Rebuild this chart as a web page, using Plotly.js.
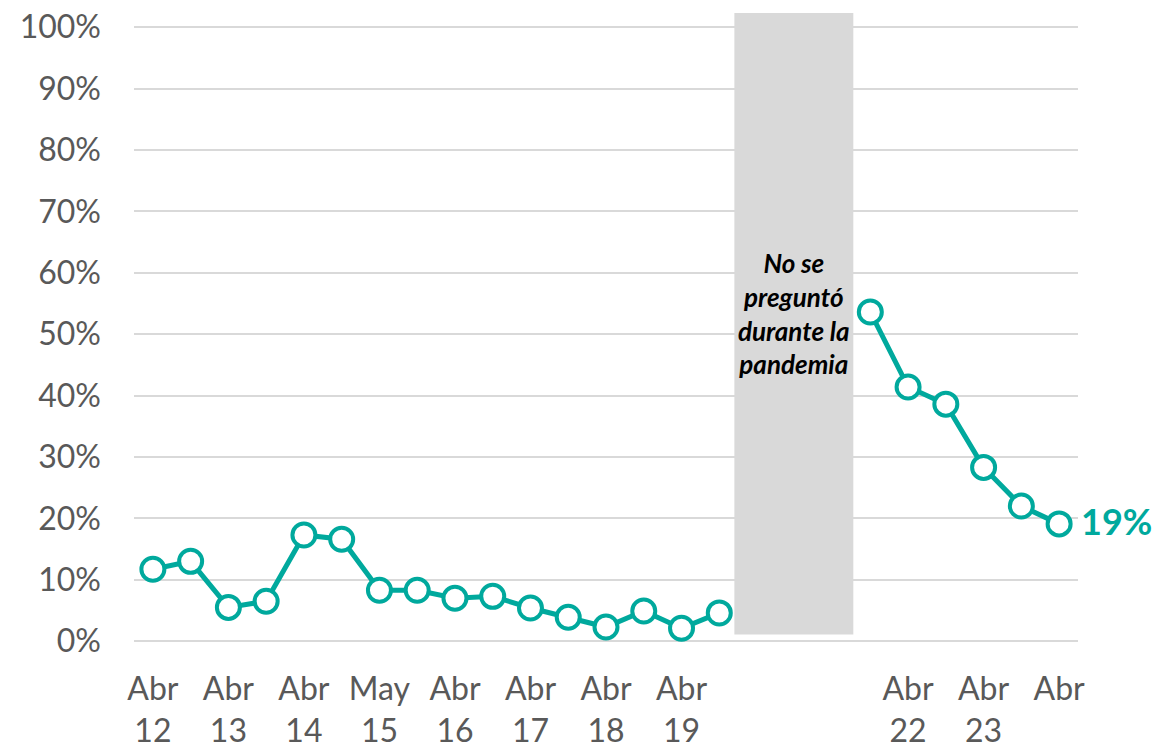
<!DOCTYPE html>
<html>
<head>
<meta charset="utf-8">
<script src="https://cdn.plot.ly/plotly-3.0.1.min.js"></script>
<style>html,body{margin:0;padding:0;background:#fff;}#chart{width:1161px;height:749px;}</style>
</head>
<body>
<div id="chart"></div>
<script>
// Survey waves (index positions along the axis); nulls = not asked during the pandemic
const waves = ["Abr 12","Jul 12","Abr 13","Jul 13","Abr 14","Jul 14","May 15","Oct 15","Abr 16","Oct 16","Abr 17","Oct 17","Abr 18","Oct 18","Abr 19","Oct 19","2020a","2020b","2021","Oct 21","Abr 22","Oct 22","Abr 23","Oct 23","Abr 24"];
const values = [11.7, 13.0, 5.5, 6.5, 17.3, 16.6, 8.3, 8.3, 7.0, 7.3, 5.4, 3.9, 2.3, 4.9, 2.1, 4.6, null, null, null, 53.6, 41.4, 38.6, 28.3, 22.0, 19.1];
const tickIdx = [0, 2, 4, 6, 8, 10, 12, 14, 20, 22, 24];
const tickLabels = ["Abr<br>12","Abr<br>13","Abr<br>14","May<br>15","Abr<br>16","Abr<br>17","Abr<br>18","Abr<br>19","Abr<br>22","Abr<br>23","Abr"];
const yTickVals = [0, 10, 20, 30, 40, 50, 60, 70, 80, 90, 100];
const yTickLabels = ["0%","10%","20%","30%","40%","50%","60%","70%","80%","90%","100%"];
const gapNote = "No se<br>preguntó<br>durante la<br>pandemia";
const lastLabel = "19%";

const teal = "#00A99D";
const xs = waves.map((_, i) => i);
const gapIdx = values.map((v, i) => v === null ? i : -1).filter(i => i >= 0);
const gapStart = gapIdx[0], gapEnd = gapIdx[gapIdx.length - 1];
const lastI = values.length - 1;

const trace = {
  x: xs, y: values, type: "scatter", mode: "lines+markers",
  connectgaps: false, cliponaxis: false,
  line: {color: teal, width: 5},
  marker: {size: 23, color: "#ffffff", line: {color: teal, width: 4}},
  hoverinfo: "skip"
};

const layout = {
  width: 1161, height: 749,
  margin: {l: 134, r: 83, t: 13, b: 106},
  paper_bgcolor: "#ffffff", plot_bgcolor: "#ffffff",
  showlegend: false,
  font: {family: "Lato, 'Open Sans', sans-serif", color: "#595959", size: 32},
  xaxis: {
    range: [-0.5, values.length - 0.5],
    tickmode: "array", tickvals: tickIdx, ticktext: tickLabels,
    showgrid: false, zeroline: false, showline: false, ticks: "",
    ticklabelstandoff: 24,
    tickfont: {size: 32, color: "#595959"}
  },
  yaxis: {
    range: [-0.3, 102.3],
    tickmode: "array", tickvals: yTickVals, ticktext: yTickLabels,
    showgrid: true, gridcolor: "#D9D9D9", gridwidth: 2,
    zeroline: false, showline: false, ticks: "",
    ticklabelstandoff: 32,
    tickfont: {size: 32, color: "#595959"}
  },
  shapes: [{
    type: "rect", xref: "x", yref: "y",
    x0: gapStart - 0.6, x1: gapEnd + 0.55, y0: 1.1, y1: 102.3,
    fillcolor: "#D9D9D9", line: {width: 0}, layer: "above"
  }],
  annotations: [
    {x: (gapStart + gapEnd) / 2 - 0.03, y: 53.3, xref: "x", yref: "y",
     text: "<b><i>" + gapNote + "</i></b>", showarrow: false,
     font: {size: 26, color: "#000000", family: "Lato, 'Open Sans', sans-serif"},
     align: "center"},
    {x: lastI, y: values[lastI], xref: "x", yref: "y",
     text: "<b>" + lastLabel + "</b>", showarrow: false,
     xanchor: "left", xshift: 20, yshift: 3,
     font: {size: 36, color: teal, family: "Lato, 'Open Sans', sans-serif"}}
  ]
};

Plotly.newPlot("chart", [trace], layout, {staticPlot: true, displayModeBar: false});
</script>
</body>
</html>
